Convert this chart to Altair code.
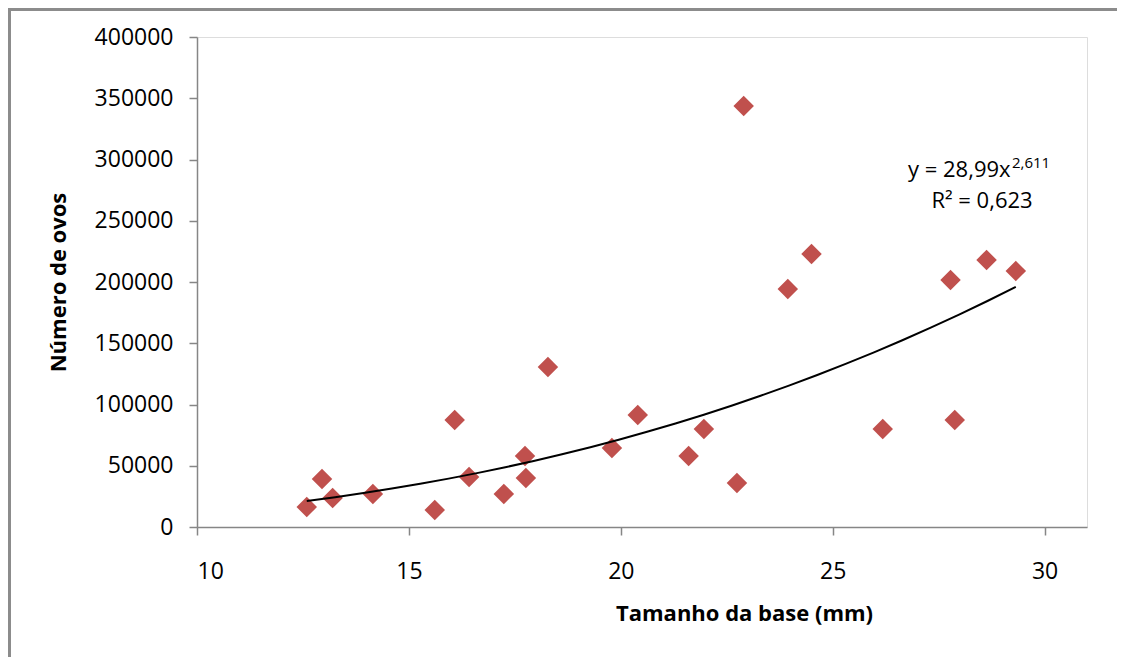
import altair as alt
import pandas as pd

# Data
tamanho = [12.59, 12.95, 13.20, 14.15, 15.61, 16.08, 16.42, 17.24, 17.74, 17.76,
           18.28, 19.79, 20.40, 21.60, 21.96, 22.74, 22.90, 23.94, 24.50, 26.18,
           27.78, 27.88, 28.63, 29.32]
ovos = [16300, 39200, 23700, 27000, 13900, 87300, 40800, 27000, 58000, 40000,
        130600, 64500, 91400, 58000, 80000, 36000, 343700, 194300, 222900, 80000,
        201600, 87300, 218000, 209000]

x_ticks = [10, 15, 20, 25, 30]
y_ticks = [0, 50000, 100000, 150000, 200000, 250000, 300000, 350000, 400000]

eq_main = ["y = 28,99x"]
eq_sup = ["2,611"]
eq_r2 = ["R² = 0,623"]

FONT = "Open Sans"
AXIS_GRAY = "#868686"

df = pd.DataFrame({"x": tamanho, "y": ovos})

xscale = alt.Scale(domain=[10, 31], nice=False, zero=False)
yscale = alt.Scale(domain=[0, 400000], nice=False)

x_axis = alt.Axis(
    values=x_ticks, title="Tamanho da base (mm)", grid=False,
    domainColor=AXIS_GRAY, domainWidth=1.5, tickColor=AXIS_GRAY, tickWidth=1.5,
    tickSize=8, labelFontSize=23, labelFont=FONT, labelColor="black",
    labelBaseline="alphabetic", labelPadding=43,
    titleFont=FONT, titleFontSize=22, titleFontWeight="bold", titleColor="black",
    titleX=547, titleY=93, titleBaseline="alphabetic", titleAlign="center",
)
y_axis = alt.Axis(
    values=y_ticks, format="d", title="Número de ovos", grid=False,
    domainColor=AXIS_GRAY, domainWidth=1.5, tickColor=AXIS_GRAY, tickWidth=1.5,
    tickSize=8, labelFontSize=23, labelFont=FONT, labelColor="black",
    labelPadding=16,
    titleFont=FONT, titleFontSize=22, titleFontWeight="bold", titleColor="black",
    titleX=-132, titleY=245, titleBaseline="alphabetic", titleAngle=-90,
    titleAlign="center",
)

base = alt.Chart(df)

points = base.mark_point(
    shape="diamond", filled=True, size=420, color="#C0504D", opacity=1
).encode(
    x=alt.X("x:Q", scale=xscale, axis=x_axis),
    y=alt.Y("y:Q", scale=yscale, axis=y_axis),
)

trend = base.transform_regression("x", "y", method="pow").mark_line(
    color="black", strokeWidth=2
).encode(
    x=alt.X("x:Q", scale=xscale),
    y=alt.Y("y:Q", scale=yscale),
)

t_main = alt.Chart(pd.DataFrame({"t": eq_main})).mark_text(
    font=FONT, fontSize=22, align="left", baseline="alphabetic", color="black"
).encode(text="t:N", x=alt.value(711), y=alt.value(140))

t_sup = alt.Chart(pd.DataFrame({"t": eq_sup})).mark_text(
    font=FONT, fontSize=15, align="left", baseline="alphabetic", color="black"
).encode(text="t:N", x=alt.value(815), y=alt.value(131))

t_r2 = alt.Chart(pd.DataFrame({"t": eq_r2})).mark_text(
    font=FONT, fontSize=22, align="center", baseline="alphabetic", color="black"
).encode(text="t:N", x=alt.value(785), y=alt.value(171))

# Outer chart frame (only top and left edges are visible in the reference)
frame_df = pd.DataFrame({"t": [0]})
frame_top = alt.Chart(frame_df).mark_rule(color="#8c8c8c", strokeWidth=3).encode(
    x=alt.value(-189), x2=alt.value(930), y=alt.value(-27.5)
)
frame_left = alt.Chart(frame_df).mark_rule(color="#8c8c8c", strokeWidth=3).encode(
    x=alt.value(-187.5), y=alt.value(-29), y2=alt.value(630)
)

chart = alt.layer(frame_top, frame_left, points, trend, t_main, t_sup, t_r2).properties(
    width=890, height=490,
    padding={"left": 189, "top": 29, "right": 30, "bottom": 130},
    autosize=alt.AutoSizeParams(type="none"),
).configure_view(stroke=None).configure(background="white")

chart.save("out.html", embed_options={"renderer": "svg", "actions": False})
